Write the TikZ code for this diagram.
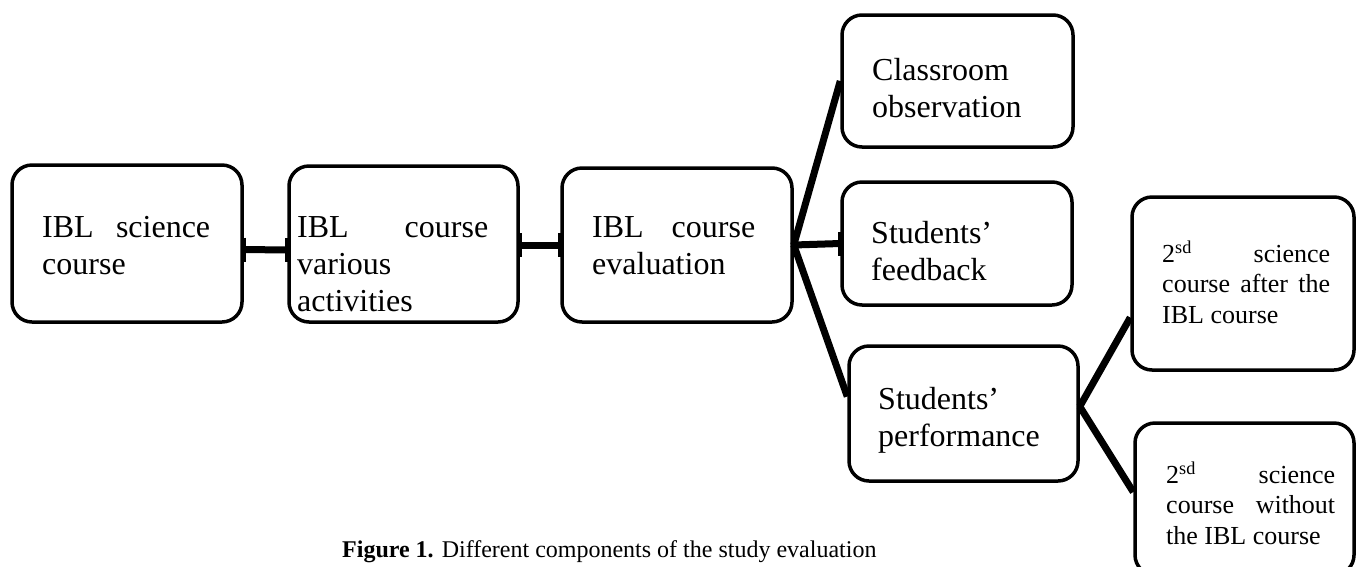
\documentclass[tikz,border=0pt]{standalone}
\usepackage{fontspec}
\setmainfont{Liberation Serif}
\usetikzlibrary{calc}
\newcommand{\jline}[2]{\makebox[#1][s]{#2}}
\begin{document}
\begin{tikzpicture}[x=1pt,y=-1pt,
  box/.style={draw, line width=3.5pt, rounded corners=20pt, inner sep=0pt},
  big/.style={anchor=north west, inner sep=0pt, align=left, font=\fontsize{32}{37}\selectfont},
  small/.style={anchor=north west, inner sep=0pt, align=left, font=\fontsize{26}{30.5}\selectfont},
  conn/.style={line width=7pt},
  tick/.style={line width=5pt}]
\useasboundingbox (0,0) rectangle (1357,566);
\clip (0,0) rectangle (1357,566);

% boxes
\node[box, minimum width=230pt, minimum height=157pt] (b1) at (127,243.5) {};
\node[box, minimum width=229pt, minimum height=156pt] (b2) at (403.5,244) {};
\node[box, minimum width=230pt, minimum height=154pt] (b3) at (677,245) {};
\node[box, minimum width=231pt, minimum height=132pt] (cls) at (957.5,81) {};
\node[box, minimum width=230pt, minimum height=123pt] (fb) at (957,243.5) {};
\node[box, minimum width=229pt, minimum height=135pt] (perf) at (963.5,413.5) {};
\node[box, minimum width=222pt, minimum height=173pt] (aft) at (1243,283.5) {};
\node[box, minimum width=219pt, minimum height=152pt] (wo) at (1244.5,499) {};

% texts
\node[big] (t1) at (42,209) {\rule{0pt}{28pt}\jline{168pt}{IBL science}\\course};
\node[big] (t2) at (297,209) {\rule{0pt}{28pt}\jline{191pt}{IBL course}\\various\\activities};
\node[big] (t3) at (592,209) {\rule{0pt}{28pt}\jline{163pt}{IBL course}\\evaluation};
\node[big] (tcls) at (872,52) {\rule{0pt}{28pt}Classroom\\observation};
\node[big] (tfb) at (871,215) {\rule{0pt}{28pt}Students’\\feedback};
\node[big] (tperf) at (878,381) {\rule{0pt}{28pt}Students’\\performance};
\node[small] (taft) at (1162,238) {\rule{0pt}{24pt}\jline{168pt}{2\textsuperscript{sd} science}\\\jline{168pt}{course after the}\\IBL course};
\node[small] (two) at (1166,459) {\rule{0pt}{24pt}\jline{169pt}{2\textsuperscript{sd} science}\\\jline{169pt}{course without}\\the IBL course};

% connectors
\coordinate (c1a) at ($(b1.east)+(0,6)$);
\coordinate (c1b) at ($(b2.west)+(0,6)$);
\draw[conn] (c1a) -- (c1b);
\draw[tick] ($(c1a)+(0,-12)$) -- ($(c1a)+(0,12)$);
\draw[tick] ($(c1b)+(0,-12)$) -- ($(c1b)+(0,12)$);

\coordinate (c2a) at (b2.east |- b3.west);
\draw[conn] (c2a) -- (b3.west);
\draw[tick] ($(c2a)+(0,-12)$) -- ($(c2a)+(0,12)$);
\draw[tick] ($(b3.west)+(0,-12)$) -- ($(b3.west)+(0,12)$);

\coordinate (h1) at (b3.east);
\coordinate (pin) at ($(perf.west)+(0,-17)$);
\draw[conn] (h1) -- (cls.west);
\draw[conn] (h1) -- (fb.west);
\draw[conn] (h1) -- (pin);
\draw[tick] ($(h1)+(0,-12)$) -- ($(h1)+(0,12)$);
\draw[tick] ($(fb.west)+(0,-12)$) -- ($(fb.west)+(0,12)$);

\coordinate (h2) at ($(perf.east)+(0,-7)$);
\coordinate (ain) at ($(aft.west)+(0,34)$);
\coordinate (win) at ($(wo.west)+(0,-7)$);
\draw[conn] (h2) -- (ain);
\draw[conn] (h2) -- (win);

% caption
\node[anchor=base west, inner sep=0pt, font=\fontsize{24}{28}\selectfont] (cap) at (342,557)
  {\textbf{Figure 1.} Different components of the study evaluation};
\end{tikzpicture}
\end{document}
